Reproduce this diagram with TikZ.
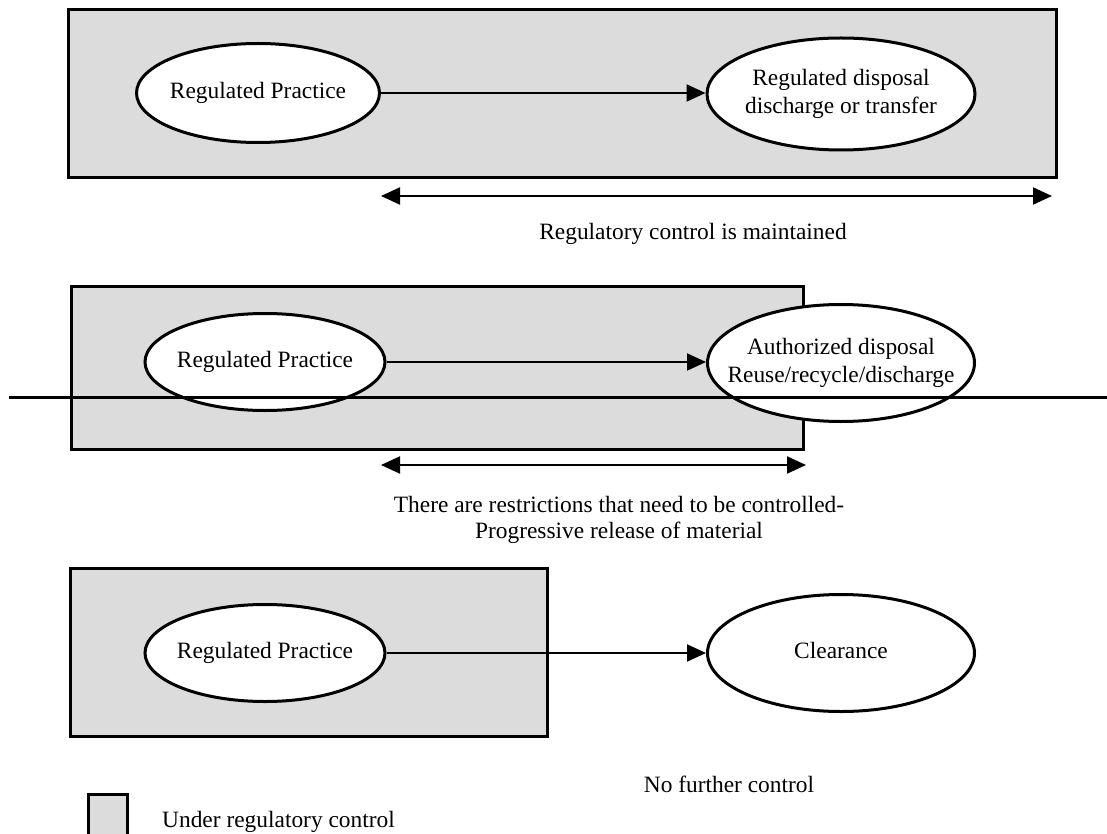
\documentclass[tikz,border=0pt]{standalone}
\usepackage{fontspec}
\setmainfont{Liberation Serif}
\usetikzlibrary{shapes.geometric,arrows.meta}
\definecolor{ctrlgray}{RGB}{220,220,220}
\newcommand\bubtext[1]{\makebox[0pt]{\begin{tabular}{@{}c@{}}#1\end{tabular}}}
\tikzset{
  zone/.style={draw=black, fill=ctrlgray, line width=3pt},
  bubble/.style={ellipse, draw=black, fill=white, line width=3pt, inner sep=0pt,
     font=\fontsize{23.4}{28}\selectfont},
  flow/.style={line width=2pt, -{Triangle[length=19pt,width=17pt]}},
  span/.style={line width=2pt, {Triangle[length=19pt,width=17pt]}-{Triangle[length=19pt,width=17pt]}},
  lbl/.style={font=\fontsize{23.4}{28}\selectfont, inner sep=0pt},
}
\begin{document}
\begin{tikzpicture}[x=1pt,y=-1pt]
\useasboundingbox (0,0) rectangle (1107,834);
% top
\draw[zone] (68,10) rectangle (1056,178);
\node[bubble, minimum width=243pt, minimum height=99pt] (rp1) at (258,93) {\bubtext{Regulated Practice}};
\node[bubble, minimum width=268pt, minimum height=112pt] (rd) at (841,94) {\bubtext{Regulated disposal\\discharge or transfer}};
\draw[flow] (rp1.east) -- (rp1.east -| rd.west);
\coordinate (s1l) at (381,196);
\coordinate (s1r) at (1052,196);
\draw[span] (s1l) -- (s1r);
\node[lbl, anchor=base] (t1) at (693,240) {Regulatory control is maintained};
% middle
\draw[zone] (71,286) rectangle (803,449);
\node[bubble, minimum width=240pt, minimum height=97pt] (rp2) at (265,362) {\bubtext{Regulated Practice}};
\node[bubble, minimum width=267pt, minimum height=117pt] (ad) at (841,363) {\bubtext{Authorized disposal\\Reuse/recycle/discharge}};
\draw[flow] (rp2.east) -- (rp2.east -| ad.west);
\coordinate (hl) at (9,397);
\coordinate (hr) at (1107,397);
\draw[line width=3pt] (hl) -- (hr);
\coordinate (s2l) at (381,465);
\coordinate (s2r) at (806,465);
\draw[span] (s2l) -- (s2r);
\node[lbl, anchor=base] (t2) at (619,512) {There are restrictions that need to be controlled-};
\node[lbl, anchor=base] (t3) at (619,538) {Progressive release of material};
% bottom
\draw[zone] (70,568) rectangle (547,736);
\node[bubble, minimum width=240pt, minimum height=97pt] (rp3) at (265,653) {\bubtext{Regulated Practice}};
\node[bubble, minimum width=267pt, minimum height=117pt] (cl) at (841,653) {\bubtext{Clearance}};
\draw[flow] (rp3.east) -- (rp3.east -| cl.west);
\node[lbl] (t4) at (729,784) {No further control};
% legend
\draw[zone] (88,794) rectangle (127,838);
\node[lbl, anchor=base west] (t5) at (162,827) {Under regulatory control};
\end{tikzpicture}
\end{document}
